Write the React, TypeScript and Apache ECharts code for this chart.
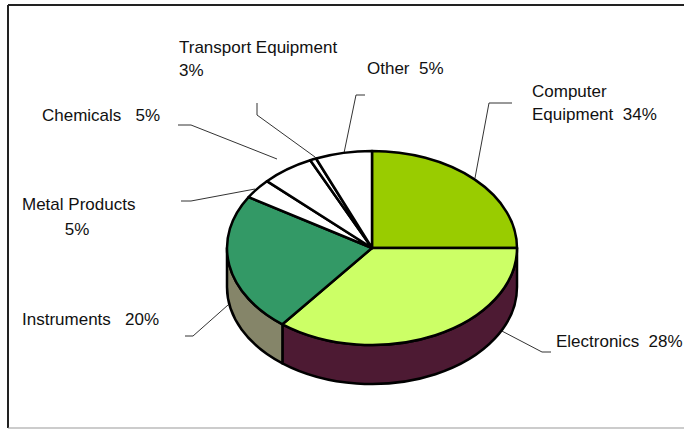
import React, { useEffect, useRef } from "react";
import * as echarts from "echarts";

const categories = ["Computer Equipment", "Electronics", "Instruments", "Metal Products", "Chemicals", "Transport Equipment", "Other"];
const labelPercents = [34, 28, 20, 5, 5, 3, 5];
// Share of the drawn ellipse that each slice occupies (%)
const drawnShares = [25, 35.6, 23.2, 3.3, 5.9, 0.7, 6.3];
const topColors = ["#99cc00", "#ccff66", "#339966", "#ffffff", "#ffffff", "#ffffff", "#ffffff"];
const sideColors = ["#99cc00", "#4d1a33", "#858569", "#ffffff", "#ffffff", "#ffffff", "#ffffff"];

const labelLines = [
  ["Computer", "Equipment  34%"],
  ["Electronics  28%"],
  ["Instruments   20%"],
  ["Metal Products", "5%"],
  ["Chemicals   5%"],
  ["Transport Equipment", "3%"],
  ["Other  5%"],
];
const labelX = [532, 556, 22, 22, 42, 179, 367];
const labelY = [91, 341, 319, 204, 115, 47, 68];
const leaderLines = [
  [[475, 178], [489, 103], [512, 103]],
  [[498, 329], [542, 352], [551, 352]],
  [[228, 305], [193, 336], [185, 336]],
  [[255, 189], [191, 201], [181, 201]],
  [[277, 159], [191, 125], [178, 125]],
  [[315, 157], [257, 115], [257, 103]],
  [[344, 153], [356, 95], [365, 95]],
];

const CX = 372, CY = 248, RX = 145, RY = 97, DEPTH = 39;
const LINE_H = 23;
const FONT = '"Liberation Sans", Arial, sans-serif';

const pt = (deg: number, dy = 0): [number, number] => {
  const t = (deg * Math.PI) / 180;
  return [CX + RX * Math.sin(t), CY - RY * Math.cos(t) + dy];
};
const arcCmd = (to: [number, number], a0: number, a1: number, sweep: number) =>
  `A${RX} ${RY} 0 ${Math.abs(a1 - a0) > 180 ? 1 : 0} ${sweep} ${to[0]} ${to[1]}`;

function renderSlice(params: any, api: any) {
  const i = params.dataIndex;
  const total = drawnShares.reduce((a, b) => a + b, 0);
  const before = drawnShares.slice(0, i).reduce((a, b) => a + b, 0);
  const a0 = (before / total) * 360;
  const a1 = ((before + api.value(0)) / total) * 360;
  const children: any[] = [];
  const style = { lineWidth: 2.5, stroke: "#000", lineJoin: "round" };

  const s0 = Math.max(a0, 90), s1 = Math.min(a1, 270);
  if (s1 > s0) {
    const p0 = pt(s0), p1 = pt(s1), q0 = pt(s0, DEPTH), q1 = pt(s1, DEPTH);
    children.push({
      type: "path",
      shape: {
        pathData:
          `M${p0[0]} ${p0[1]}` + arcCmd(p1, s0, s1, 1) +
          `L${q1[0]} ${q1[1]}` + arcCmd(q0, s1, s0, 0) + "Z",
      },
      style: { ...style, fill: sideColors[i] },
    });
  }
  const p0 = pt(a0), p1 = pt(a1);
  children.push({
    type: "path",
    shape: { pathData: `M${CX} ${CY}L${p0[0]} ${p0[1]}` + arcCmd(p1, a0, a1, 1) + "Z" },
    style: { ...style, fill: topColors[i] },
  });
  return { type: "group", children };
}

export default function App() {
  const ref = useRef<HTMLDivElement>(null);
  useEffect(() => {
    const chart = echarts.init(ref.current!, undefined, { renderer: "svg" });
    const graphics: any[] = [];
    leaderLines.forEach((points) =>
      graphics.push({
        type: "polyline",
        z: 1,
        shape: { points },
        style: { stroke: "#333", lineWidth: 1, fill: "none" },
      })
    );
    labelLines.forEach((lines, i) =>
      lines.forEach((line, j) => {
        const centred = i === 3 && j === 1;
        graphics.push({
          type: "text",
          z: 5,
          x: centred ? 77 : labelX[i],
          y: labelY[i] + j * (i === 3 ? 25 : LINE_H),
          style: {
            text: line,
            fill: "#111",
            font: `17px ${FONT}`,
            align: centred ? "center" : "left",
            verticalAlign: "middle",
          },
        });
      })
    );
    const frame = [
      { shape: { x1: 8, y1: 5, x2: 684, y2: 5 }, style: { stroke: "#222", lineWidth: 2 } },
      { shape: { x1: 8, y1: 5, x2: 8, y2: 428 }, style: { stroke: "#222", lineWidth: 2 } },
      { shape: { x1: 8, y1: 428, x2: 684, y2: 428 }, style: { stroke: "#999", lineWidth: 1 } },
    ];
    frame.forEach((f) => graphics.push({ type: "line", z: 1, ...f }));
    chart.setOption({
      animation: false,
      backgroundColor: "#ffffff",
      graphic: { elements: graphics },
      series: [
        {
          type: "custom",
          coordinateSystem: "none",
          z: 3,
          renderItem: renderSlice,
          data: categories.map((name, i) => ({ name, value: [drawnShares[i], labelPercents[i]] })),
        },
      ],
    });
    return () => chart.dispose();
  }, []);
  return <div ref={ref} style={{ position: "fixed", left: 0, top: 0, width: 684, height: 429 }} />;
}
